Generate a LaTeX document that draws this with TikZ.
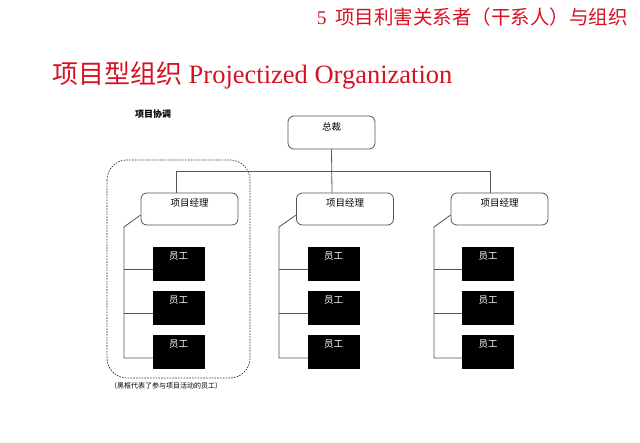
\documentclass[tikz,border=0pt]{standalone}
\usepackage{fontspec}
\setmainfont{Liberation Serif}
\newfontfamily\cjk{Noto Sans CJK SC}
\usetikzlibrary{calc}
\definecolor{titlered}{RGB}{214,18,34}
\definecolor{linegray}{RGB}{85,85,85}
\begin{document}
\begin{tikzpicture}[x=1pt,y=-1pt,
  boxline/.style={draw=linegray,line width=0.8pt},
  wire/.style={draw=linegray,line width=0.8pt},
  ceobox/.style={boxline,rounded corners=6pt,minimum width=87pt,minimum height=33pt,inner sep=0pt},
  pmbox/.style={boxline,rounded corners=6pt,minimum width=97pt,minimum height=32pt,inner sep=0pt},
  staffbox/.style={fill=black,draw=black,minimum width=51pt,minimum height=33pt,inner sep=0pt},
  boxtext/.style={font=\cjk\fontsize{9.5}{11}\selectfont,inner sep=0pt}
]
\useasboundingbox (0,0) rectangle (640,443);

% headings
\node[anchor=east,text=titlered,inner sep=0pt,font=\fontsize{19.5}{22}\selectfont] (chapter) at (628,17)
  {5\hspace{0.45em}{\cjk 项目利害关系者（干系人）与组织}};
\node[anchor=west,text=titlered,inner sep=0pt,font=\fontsize{26}{30}\selectfont] (title) at (52,75)
  {{\cjk 项目型组织} {\fontsize{26.5}{30}\selectfont Projectized Organization}};
\node[anchor=west,inner sep=0pt,font=\cjk\bfseries\fontsize{9}{11}\selectfont] (coord) at (135,114) {项目协调};

% project team outline
\draw[line width=0.7pt,rounded corners=20pt,draw=black!80,dash pattern=on 1.6pt off 1.2pt] (107,160) rectangle (250,378);
\node[inner sep=0pt,font=\cjk\fontsize{7}{8}\selectfont,anchor=west] (note) at (110,386) {（黑框代表了参与项目活动的员工）};

% top of the hierarchy
\node[ceobox] (ceo) at (331.5,132.5) {};
\node[boxtext,anchor=north] (ceot) at ($(ceo.north)+(0,7)$) {总裁};

% project managers
\foreach \n/\cx in {L/189.5,M/345,R/499.5}{
  \node[pmbox] (pm\n) at (\cx,209) {};
  \node[boxtext,anchor=north] (pm\n t) at ($(pm\n.north)+(0,6)$) {项目经理};
}

% bus from the CEO to the managers
\coordinate (busL) at (176,171);
\coordinate (busM) at (332,171);
\coordinate (busR) at (490,171);
\draw[wire] (busL) -- (busR);
\draw[wire] (ceo.south) -- (pmM.north -| busM);
\draw[wire] (busL) -- (pmL.north -| busL);
\draw[wire] (busR) -- (pmR.north -| busR);

% staff under each manager
\foreach \n/\ex/\rx in {L/178.5/124,M/333.5/279,R/488/434}{
  \foreach \k/\ey in {1/264,2/308,3/352}{
    \node[staffbox] (s\n\k) at (\ex,\ey) {};
    \node[boxtext,text=white,anchor=north] (s\n\k t) at ($(s\n\k.north)+(0,4)$) {员工};
  }
  \coordinate (elbow\n) at (\rx,227);
  \coordinate (foot\n) at (\rx,358);
  \draw[wire] (pm\n.west |- 0,215) -- (elbow\n) -- (foot\n) -- (foot\n -| s\n3.west);
  \draw[wire] (\rx,269) -- (s\n1.west |- 0,269);
  \draw[wire] (\rx,313) -- (s\n2.west |- 0,313);
}
\end{tikzpicture}
\end{document}
